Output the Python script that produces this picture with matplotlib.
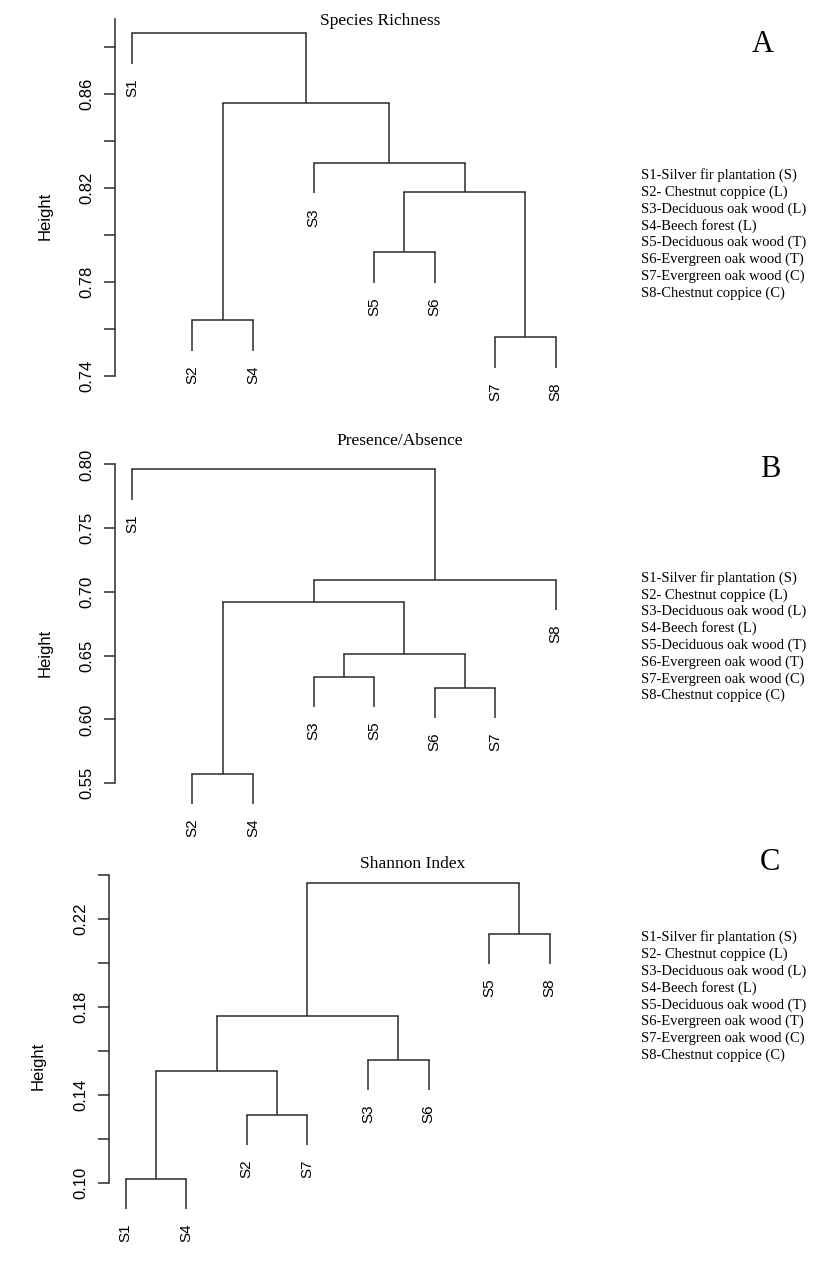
import numpy as np
import matplotlib
matplotlib.use("Agg")
import matplotlib.pyplot as plt

# ---- data (hclust style: negative = leaf Sx, positive = earlier merge) ----
sites = ['S1-Silver fir plantation (S)', 'S2- Chestnut coppice (L)',
         'S3-Deciduous oak wood (L)', 'S4-Beech forest (L)',
         'S5-Deciduous oak wood (T)', 'S6-Evergreen oak wood (T)',
         'S7-Evergreen oak wood (C)', 'S8-Chestnut coppice (C)']

rich_order = [1, 2, 4, 3, 5, 6, 7, 8]
rich_merge = [(-7, -8), (-2, -4), (-5, -6), (3, 1), (-3, 4), (2, 5), (-1, 6)]
rich_height = [0.7565, 0.7637, 0.7926, 0.8184, 0.8306, 0.8562, 0.8858]

pa_order = [1, 2, 4, 3, 5, 6, 7, 8]
pa_merge = [(-2, -4), (-6, -7), (-3, -5), (3, 2), (1, 4), (5, -8), (-1, 6)]
pa_height = [0.5575, 0.6249, 0.6335, 0.6516, 0.6924, 0.7097, 0.7961]

sh_order = [1, 4, 2, 7, 3, 6, 5, 8]
sh_merge = [(-1, -4), (-2, -7), (1, 2), (-3, -6), (3, 4), (-5, -8), (5, 6)]
sh_height = [0.1018, 0.1308, 0.1512, 0.1558, 0.1762, 0.2130, 0.2362]

W, H = 837, 1284
fig = plt.figure(figsize=(W / 100, H / 100), dpi=100)


def fx(px):
    return px / W


def fy(py):
    return 1 - py / H


def dendro(rect, order, merge, height, ticks, ticklabels, spine_top):
    ax = fig.add_axes(rect)
    n = len(order)
    xpos = {leaf: i + 1 for i, leaf in enumerate(order)}
    hang = 0.1 * (max(height) - min(height))
    node_x, node_y = {}, {}
    leaf_ends = []
    for k, ((a, b), h) in enumerate(zip(merge, height), start=1):
        xs = []
        for c in (a, b):
            if c < 0:
                x, y0 = xpos[-c], h - hang
                leaf_ends.append(y0)
                ax.annotate('S%d' % -c, (x, y0), xytext=(0, -10.5),
                            textcoords='offset points', rotation=90,
                            ha='center', va='top', fontsize=11,
                            family='Liberation Sans')
            else:
                x, y0 = node_x[c], node_y[c]
            ax.plot([x, x], [y0, h], color='#2b2b2b', lw=1.1,
                    solid_capstyle='butt')
            xs.append(x)
        ax.plot(xs, [h, h], color='#2b2b2b', lw=1.1, solid_capstyle='projecting')
        node_x[k] = np.mean(xs)
        node_y[k] = h
    lo, hi = min(leaf_ends), max(height)
    pad = 0.04 * (hi - lo)
    ax.set_ylim(lo - pad, hi + pad)
    ax.set_xlim(1 - 0.04 * (n - 1), n + 0.04 * (n - 1))
    for s in ('top', 'right', 'bottom'):
        ax.spines[s].set_visible(False)
    ax.spines['left'].set_bounds(ticks[0], spine_top)
    ax.spines['left'].set_color('#2b2b2b')
    ax.spines['left'].set_linewidth(1.1)
    ax.set_xticks([])
    ax.set_yticks(ticks)
    ax.set_yticklabels(ticklabels, rotation=90, va='center',
                       family='Liberation Sans', fontsize=12)
    ax.tick_params(axis='y', length=7.7, width=1.1, color='#2b2b2b', pad=7)
    ax.patch.set_alpha(0)
    return ax


serif = 'Liberation Serif'

# panel A
ticksA = [0.74, 0.76, 0.78, 0.80, 0.82, 0.84, 0.86, 0.88]
labsA = ['0.74', '', '0.78', '', '0.82', '', '0.86', '']
dendro([fx(115), fy(381), fx(457.7), (381 - 20) / H], rich_order, rich_merge,
       rich_height, ticksA, labsA, 0.892)

# panel B
ticksB = [0.55, 0.60, 0.65, 0.70, 0.75, 0.80]
labsB = ['0.55', '0.60', '0.65', '0.70', '0.75', '0.80']
dendro([fx(115), fy(817.4), fx(457.7), (817.4 - 456) / H], pa_order, pa_merge,
       pa_height, ticksB, labsB, 0.80)

# panel C
ticksC = [0.10, 0.12, 0.14, 0.16, 0.18, 0.20, 0.22, 0.24]
labsC = ['0.10', '', '0.14', '', '0.18', '', '0.22', '']
dendro([fx(108.7), fy(1221.9), fx(458), (1221.9 - 870.4) / H], sh_order, sh_merge,
       sh_height, ticksC, labsC, 0.24)

# titles, panel letters, y labels, legends
titles = ['Species Richness', 'Presence/Absence', 'Shannon Index']
title_pos = [(380, 25), (399.5, 445), (412.5, 867.7)]
letters = ['A', 'B', 'C']
letter_pos = [(763, 51.7), (770, 477.3), (770, 870)]
ylab_pos = [(45, 216), (45, 653), (38.5, 1066)]
legend_top = [179, 581.7, 941.3]

for i in range(3):
    fig.text(fx(title_pos[i][0]), fy(title_pos[i][1]), titles[i], ha='center',
             va='baseline', fontsize=12.5, family=serif)
    fig.text(fx(letter_pos[i][0]), fy(letter_pos[i][1]), letters[i], ha='center',
             va='baseline', fontsize=22, family=serif)
    fig.text(fx(ylab_pos[i][0]), fy(ylab_pos[i][1]), 'Height', rotation=90,
             ha='center', va='center', fontsize=12, family='Liberation Sans')
    for j, s in enumerate(sites):
        fig.text(fx(640.7), fy(legend_top[i] + j * 16.8), s, ha='left',
                 va='baseline', fontsize=10.5, family=serif)

fig.savefig('out.png', dpi=100)
